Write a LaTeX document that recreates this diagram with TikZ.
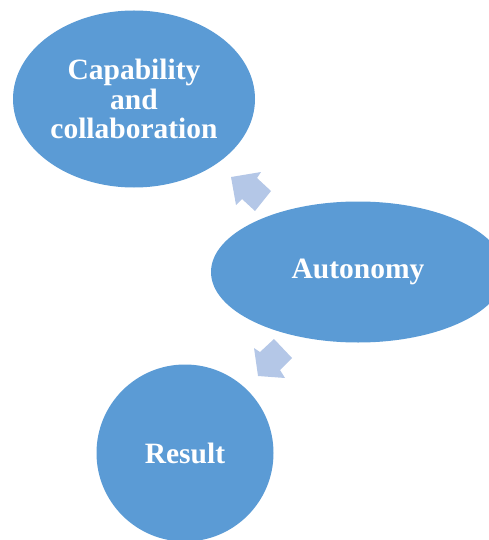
\documentclass[tikz,border=0pt]{standalone}
\usepackage{fontspec}
\setmainfont{Liberation Serif}
\usetikzlibrary{shapes.geometric}

\definecolor{bubbleblue}{HTML}{5B9BD5}
\definecolor{arrowblue}{HTML}{B4C7E7}

\tikzset{
  bubble/.style={ellipse, fill=bubbleblue, draw=none, inner sep=0pt,
    text=white, align=center,
    font=\fontsize{29.5}{29.5}\selectfont\bfseries},
  blockarrow/.style={fill=arrowblue, draw=none}
}

\begin{document}
\begin{tikzpicture}[x=1pt, y=-1pt]

  \useasboundingbox (0,0) rectangle (488,540);

  % --- bubbles ---
  \node[bubble, minimum width=242pt, minimum height=177pt] (cap) at (134,99)
    {Capability\\and\\collaboration};
  \node[bubble, minimum width=294pt, minimum height=141pt] (auto) at (358,272)
    {Autonomy};
  \node[bubble, minimum width=177pt, minimum height=177pt] (res) at (185,453)
    {Result};

  % --- arrows (manual path) ---
  \draw[blockarrow]
    (231,177) -- (261,172) -- (257,178) -- (271,191) -- (255,211)
    -- (242,199) -- (236,205) -- cycle;
  \draw[blockarrow]
    (254,348) -- (260,352) -- (274,339) -- (292,358) -- (280,370)
    -- (285,378) -- (258,376) -- cycle;

\end{tikzpicture}
\end{document}
